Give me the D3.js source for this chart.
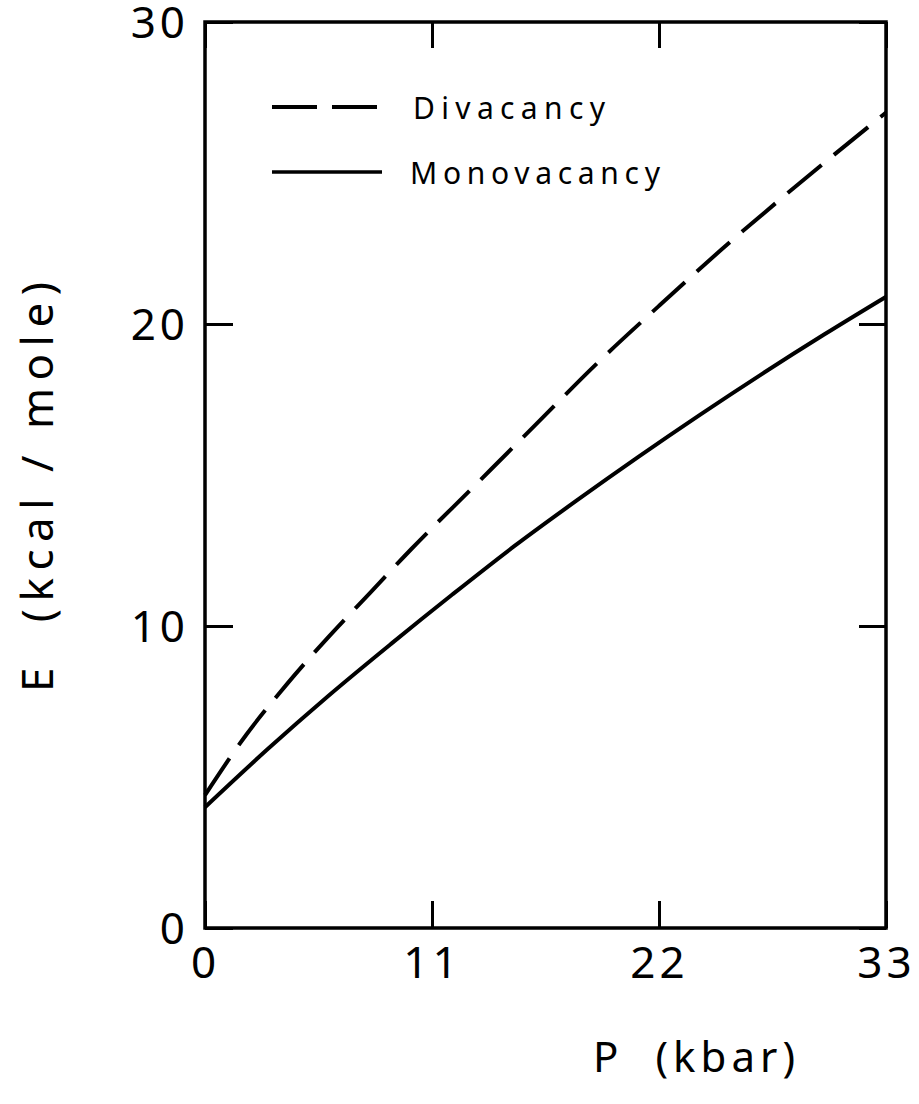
<!DOCTYPE html>
<html>
<head>
<meta charset="utf-8">
<script src="https://cdn.jsdelivr.net/npm/d3@7"></script>
<style>
  html, body { margin: 0; padding: 0; background: #fff; }
  svg { display: block; }
  text { font-family: "Noto Sans", "DejaVu Sans", sans-serif; fill: #000; }
</style>
</head>
<body>
<svg id="chart" width="919" height="1104"></svg>
<script>
// ---- data ----
const divP = [0, 2, 4, 6, 8, 10, 13, 16, 19, 22, 25, 28, 33];
const divE = [4.4, 6.4, 8.1, 9.65, 11.1, 12.55, 14.6, 16.65, 18.7, 20.6, 22.45, 24.2, 27.0];
const monoP = [0, 3, 6, 9, 12, 15, 18, 21, 24, 27, 30, 33];
const monoE = [4.0, 5.9, 7.7, 9.4, 11.05, 12.65, 14.15, 15.6, 17.0, 18.35, 19.65, 20.9];
const xTicks = [0, 11, 22, 33];
const yTicks = [0, 10, 20, 30];
const seriesNames = ["Divacancy", "Monovacancy"];
const xTitle = "P  (kbar)";
const yTitle = "E  (kcal / mole)";

// ---- layout ----
const svg = d3.select("#chart");
const L = 205, R = 886, T = 22, B = 928;
const x = d3.scaleLinear().domain([0, 33]).range([L, R]);
const y = d3.scaleLinear().domain([0, 30]).range([B, T]);

const fontTick = 44;

// axes (ticks pointing inward)
const gB = svg.append("g").attr("transform", `translate(0,${B})`)
  .call(d3.axisBottom(x).tickValues(xTicks).tickSizeInner(-27).tickSizeOuter(0).tickPadding(19).tickFormat(d3.format("d")));
const gT = svg.append("g").attr("transform", `translate(0,${T})`)
  .call(d3.axisTop(x).tickValues(xTicks).tickSizeInner(-26).tickSizeOuter(0).tickFormat(""));
const gL = svg.append("g").attr("transform", `translate(${L},0)`)
  .call(d3.axisLeft(y).tickValues(yTicks).tickSizeInner(-28).tickSizeOuter(0).tickPadding(16).tickFormat(d3.format("d")));
const gR = svg.append("g").attr("transform", `translate(${R},0)`)
  .call(d3.axisRight(y).tickValues(yTicks).tickSizeInner(-27).tickSizeOuter(0).tickFormat(""));

[gB, gT, gL, gR].forEach(g => {
  g.select(".domain").remove();
  g.selectAll(".tick line").attr("stroke", "#000").attr("stroke-width", 3);
});
gB.selectAll(".tick text").attr("font-size", fontTick).attr("dy", "0.71em")
  .attr("font-family", '"Noto Sans", sans-serif').attr("letter-spacing", 4);
gL.selectAll(".tick text").attr("font-size", fontTick).attr("dy", "0.36em")
  .attr("font-family", '"Noto Sans", sans-serif').attr("letter-spacing", 4);

// frame
svg.append("rect").attr("x", L).attr("y", T).attr("width", R - L).attr("height", B - T)
  .attr("fill", "none").attr("stroke", "#000").attr("stroke-width", 3.5);

// curves
const line = d3.line().x(d => x(d[0])).y(d => y(d[1])).curve(d3.curveMonotoneX);
const divData = divP.map((p, i) => [p, divE[i]]);
const monoData = monoP.map((p, i) => [p, monoE[i]]);

svg.append("path").datum(divData).attr("d", line)
  .attr("fill", "none").attr("stroke", "#000").attr("stroke-width", 4)
  .attr("stroke-dasharray", "44,16");
svg.append("path").datum(monoData).attr("d", line)
  .attr("fill", "none").attr("stroke", "#000").attr("stroke-width", 4);

// legend
const leg = svg.append("g");
leg.append("line").attr("x1", 272).attr("x2", 382).attr("y1", 107).attr("y2", 107)
  .attr("stroke", "#000").attr("stroke-width", 4).attr("stroke-dasharray", "45,15");
leg.append("line").attr("x1", 272).attr("x2", 382).attr("y1", 172).attr("y2", 172)
  .attr("stroke", "#000").attr("stroke-width", 3.5);
leg.append("text").attr("x", 413).attr("y", 119).attr("font-size", 30)
  .attr("textLength", 192).attr("lengthAdjust", "spacing").text(seriesNames[0]);
leg.append("text").attr("x", 410).attr("y", 184).attr("font-size", 30)
  .attr("textLength", 250).attr("lengthAdjust", "spacing").text(seriesNames[1]);

// axis titles
svg.append("text").attr("x", 593).attr("y", 1072).attr("font-size", 42)
  .attr("xml:space", "preserve").attr("textLength", 202).attr("lengthAdjust", "spacing")
  .text(xTitle);
svg.append("text").attr("transform", "translate(53,692) rotate(-90)")
  .attr("font-size", 44).attr("xml:space", "preserve")
  .attr("textLength", 410).attr("lengthAdjust", "spacing").text(yTitle);
</script>
</body>
</html>
